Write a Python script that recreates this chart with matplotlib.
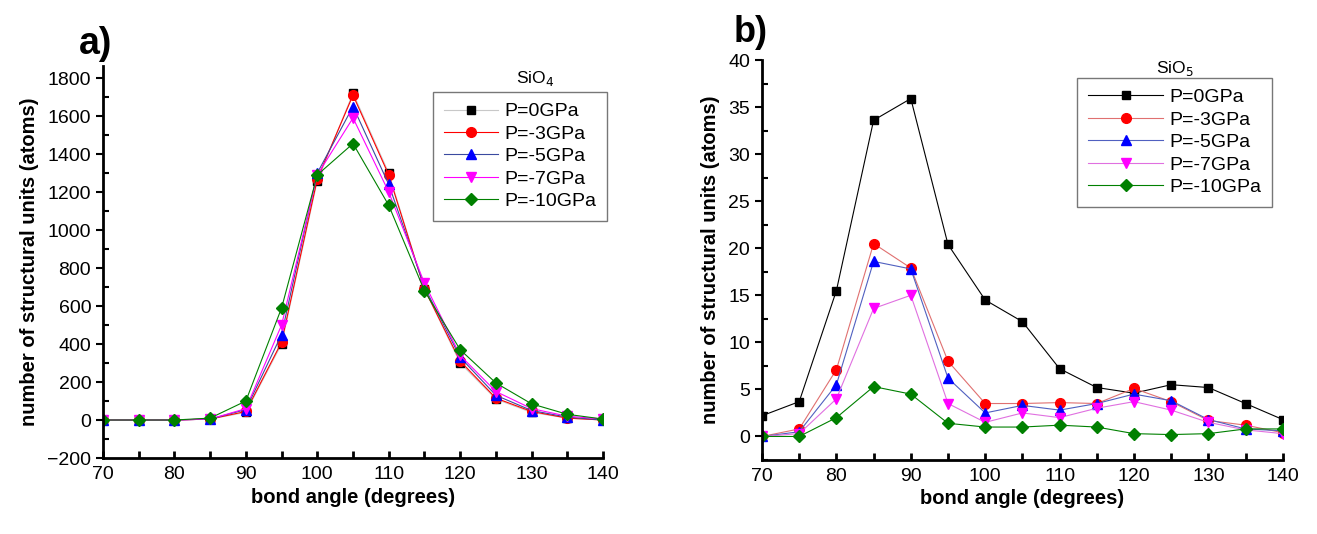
import numpy as np
import matplotlib
matplotlib.use('Agg')
import matplotlib.pyplot as plt
from matplotlib.ticker import MultipleLocator

plt.rcParams['font.family'] = ['Liberation Sans', 'DejaVu Sans']

# bond angles (degrees)
angle = [70, 75, 80, 85, 90, 95, 100, 105, 110, 115, 120, 125, 130, 135, 140]
labels = ['P=0GPa', 'P=-3GPa', 'P=-5GPa', 'P=-7GPa', 'P=-10GPa']

# a) SiO4 units
sio4_p0 = [0, 0, 0, 5, 40, 400, 1260, 1720, 1300, 690, 300, 110, 40, 10, 0]
sio4_p3 = [0, 0, 0, 5, 45, 410, 1270, 1710, 1290, 690, 310, 115, 45, 10, 0]
sio4_p5 = [0, 0, 0, 5, 55, 450, 1300, 1650, 1240, 700, 330, 130, 50, 15, 0]
sio4_p7 = [0, 0, 0, 5, 60, 500, 1290, 1590, 1200, 720, 340, 150, 60, 20, 5]
sio4_p10 = [0, 0, 0, 10, 100, 590, 1290, 1455, 1130, 680, 370, 195, 85, 30, 5]

# b) SiO5 units
sio5_p0 = [2.2, 3.7, 15.5, 33.6, 35.9, 20.4, 14.5, 12.2, 7.2, 5.2, 4.6, 5.5, 5.2, 3.5, 1.8]
sio5_p3 = [0, 0.8, 7.1, 20.5, 17.9, 8.0, 3.5, 3.5, 3.6, 3.5, 5.1, 3.7, 1.7, 1.2, 0.4]
sio5_p5 = [0, 0.5, 5.5, 18.6, 17.8, 6.2, 2.5, 3.3, 2.8, 3.5, 4.5, 3.8, 1.8, 0.8, 0.6]
sio5_p7 = [0, 0.3, 4.0, 13.6, 15.0, 3.5, 1.5, 2.5, 2.0, 3.0, 3.7, 2.8, 1.5, 0.7, 0.3]
sio5_p10 = [0, 0, 2.0, 5.3, 4.5, 1.4, 1.0, 1.0, 1.2, 1.0, 0.3, 0.2, 0.3, 0.8, 0.8]

markers = ['s', 'o', '^', 'v', 'D']
colors = ['black', 'red', 'blue', 'magenta', 'green']
msizes = [6, 7, 7, 7, 6]

fig = plt.figure(figsize=(13.17, 5.34), dpi=100)
axa = fig.add_axes([0.0782, 0.1423, 0.3797, 0.7340])
axb = fig.add_axes([0.5786, 0.1386, 0.3954, 0.7490])


def style_axes(ax):
    for s in ['top', 'right']:
        ax.spines[s].set_visible(False)
    for s in ['left', 'bottom']:
        ax.spines[s].set_linewidth(2)
    ax.set_xlim(70, 140)
    ax.xaxis.set_major_locator(MultipleLocator(10))
    ax.xaxis.set_minor_locator(MultipleLocator(5))
    ax.tick_params(axis='x', which='both', direction='in', length=5, width=2,
                   labelsize=14, pad=6)
    ax.tick_params(axis='y', which='major', direction='out', length=5, width=1.5,
                   labelsize=14)
    ax.tick_params(axis='y', which='minor', direction='in', length=4, width=1.5)
    ax.set_xlabel('bond angle (degrees)', fontsize=14.5, fontweight='bold', labelpad=3)
    ax.set_ylabel('number of structural units (atoms)', fontsize=14.5,
                  fontweight='bold', labelpad=6)


def add_legend(ax, anchor, hl):
    leg = ax.legend(loc='upper right', bbox_to_anchor=anchor,
                    bbox_transform=fig.transFigure, fontsize=14,
                    fancybox=False, edgecolor='#555555', handlelength=hl,
                    labelspacing=0.25, borderpad=0.55, handletextpad=0.3,
                    borderaxespad=0)
    leg.get_frame().set_linewidth(1.0)


# panel a
series_a = [sio4_p0, sio4_p3, sio4_p5, sio4_p7, sio4_p10]
line_cols_a = ['#c8c8c8', 'red', '#3a4aa0', 'magenta', 'green']
for y, m, c, lc, ms, lab in zip(series_a, markers, colors, line_cols_a, msizes, labels):
    axa.plot(angle, y, color=lc, lw=0.8, marker=m, ms=ms, mfc=c, mec=c, label=lab)
style_axes(axa)
axa.set_ylim(-200, 1863)
axa.yaxis.set_major_locator(MultipleLocator(200))
axa.yaxis.set_minor_locator(MultipleLocator(100))
add_legend(axa, (0.4609, 0.8277), 2.8)
fig.text(535 / 1317, 1 - 78 / 534, 'SiO$_4$', fontsize=12.5, ha='center', va='center')
fig.text(0.060, 0.918, 'a)', fontsize=27, fontweight='bold', ha='left', va='center')

# panel b
series_b = [sio5_p0, sio5_p3, sio5_p5, sio5_p7, sio5_p10]
line_cols_b = ['black', '#e07070', '#5060c0', '#e070e0', 'green']
for y, m, c, lc, ms, lab in zip(series_b, markers, colors, line_cols_b, msizes, labels):
    axb.plot(angle, y, color=lc, lw=0.8, marker=m, ms=ms, mfc=c, mec=c, label=lab)
style_axes(axb)
axb.set_ylim(-2.5, 40)
axb.yaxis.set_major_locator(MultipleLocator(5))
axb.yaxis.set_minor_locator(MultipleLocator(2.5))
add_legend(axb, (0.9658, 0.854), 3.9)
fig.text(1175 / 1317, 1 - 68 / 534, 'SiO$_5$', fontsize=12.5, ha='center', va='center')
fig.text(0.557, 0.94, 'b)', fontsize=26, fontweight='bold', ha='left', va='center')

fig.savefig('out.png', dpi=100)
